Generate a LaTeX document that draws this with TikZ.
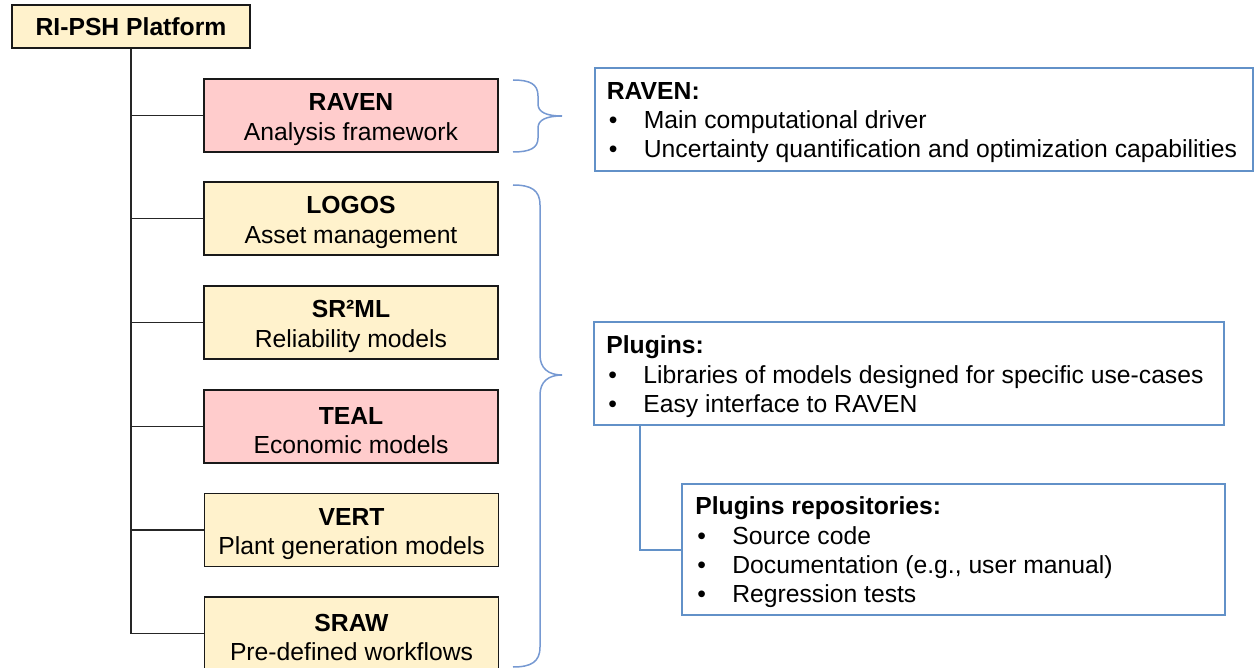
\documentclass[tikz,border=0pt]{standalone}
\usepackage{fontspec}
\setmainfont{Liberation Sans}
\usetikzlibrary{calc}
\definecolor{boxyellow}{RGB}{255,242,204}
\definecolor{boxpink}{RGB}{255,204,204}
\definecolor{infoblue}{RGB}{98,145,200}
\definecolor{braceblue}{RGB}{118,153,210}
\newcommand{\bitem}[1]{\makebox[18.5pt][l]{\hspace{1pt}\textbullet}#1}
\newcommand{\tbstrut}{\rule{0pt}{12.4pt}}
\begin{document}
\begin{tikzpicture}[x=0.5pt,y=-0.5pt,
  every node/.style={font=\fontsize{12.35}{14.7}\selectfont},
  treebox/.style={draw=black!90, line width=0.75pt, minimum width=147pt,
    minimum height=36.5pt, inner sep=0pt, align=center},
  ybox/.style={treebox, fill=boxyellow},
  pbox/.style={treebox, fill=boxpink},
  treeline/.style={draw=black!85, line width=0.75pt},
  infobox/.style={draw=infoblue, line width=1pt, fill=white, inner sep=0pt},
  infotext/.style={anchor=west, inner sep=0pt, align=left},
  bracestyle/.style={draw=braceblue, line width=0.75pt},
  linkline/.style={draw=infoblue, line width=1pt}
]
\useasboundingbox (0,0) rectangle (1254,668);

% root
\node[draw=black!90, line width=0.75pt, fill=boxyellow, inner sep=0pt,
  minimum width=119pt, minimum height=21.5pt,
  font=\fontsize{12.35}{14.7}\selectfont\bfseries] (root) at (131,26.5) {RI-PSH Platform};

% tree boxes
\node[pbox] (raven) at (351,115.5) {\tbstrut\textbf{RAVEN}\\Analysis framework};
\node[ybox] (logos) at (351,218.5) {\tbstrut\textbf{LOGOS}\\Asset management};
\node[ybox] (srml)  at (351,322.5) {\tbstrut\textbf{SR²ML}\\Reliability models};
\node[pbox] (teal)  at (351,426.5) {\tbstrut\textbf{TEAL}\\Economic models};
\node[ybox] (vert)  at (351.5,530) {\tbstrut\textbf{VERT}\\Plant generation models};
\node[ybox] (sraw)  at (351.5,633.5) {\tbstrut\textbf{SRAW}\\Pre-defined workflows};

% tree lines
\draw[treeline] (root.south) -- (root.south |- sraw.west);
\foreach \n in {raven,logos,srml,teal,vert,sraw}{
  \draw[treeline] (root.south |- \n.west) -- (\n.west);
}

% braces
\draw[bracestyle] (513,80) .. controls (530,80) and (538,84) .. (538,96) -- (538,104)
  .. controls (538,112) and (546,116) .. (562,116)
  .. controls (546,116) and (538,120) .. (538,128) -- (538,138)
  .. controls (538,148) and (530,152) .. (513,152);
\draw[bracestyle] (513,185) .. controls (531,185) and (540,190) .. (540,205) -- (540,355)
  .. controls (540,368) and (548,375) .. (562,375)
  .. controls (548,375) and (540,382) .. (540,395) -- (540,647)
  .. controls (540,662) and (531,667) .. (513,667);

% info boxes
\node[infobox, minimum width=329pt, minimum height=51.5pt] (ravinfo) at (923.5,119.5) {};
\node[infotext] (ravtxt) at ($(ravinfo.west)+(13,3)$)
  {\textbf{RAVEN:}\\\bitem{Main computational driver}\\\bitem{Uncertainty quantification and optimization capabilities}};

\node[infobox, minimum width=315pt, minimum height=51.5pt] (plug) at (909,373.5) {};
\node[infotext] (plugtxt) at ($(plug.west)+(13,3.5)$)
  {\textbf{Plugins:}\\\bitem{Libraries of models designed for specific use-cases}\\\bitem{Easy interface to RAVEN}};

\node[infobox, minimum width=271.5pt, minimum height=65.5pt] (repo) at (953.5,549.5) {};
\node[infotext] (repotxt) at ($(repo.west)+(14,3)$)
  {\textbf{Plugins repositories:}\\\bitem{Source code}\\\bitem{Documentation (e.g., user manual)}\\\bitem{Regression tests}};

% link
\coordinate (plugfoot) at ($(plug.south west)+(47,0)$);
\draw[linkline] (plugfoot) |- (repo.west);
\end{tikzpicture}
\end{document}
